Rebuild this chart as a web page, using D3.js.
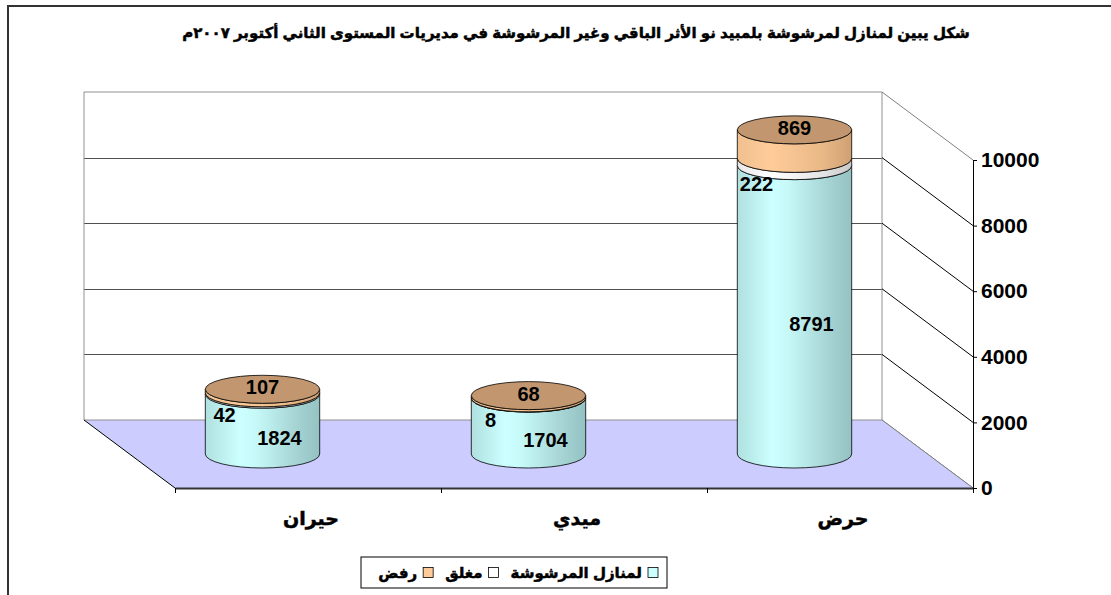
<!DOCTYPE html>
<html>
<head>
<meta charset="utf-8">
<script src="https://cdn.jsdelivr.net/npm/d3@7/dist/d3.min.js"></script>
<style>
body{margin:0;background:#fff;}
svg{display:block;}
text{font-family:Arial,"Liberation Sans","DejaVu Sans",sans-serif;font-weight:bold;fill:#000;}
.ar{stroke:#000;stroke-width:0.5px;}
</style>
</head>
<body>
<div id="canvas"></div>
<script>
// data
var categories = ['حيران', 'ميدي', 'حرض'];
var sprayed = [1824, 1704, 8791];   // لمنازل المرشوشة
var closedH = [42, 8, 222];         // مغلق
var refused = [107, 68, 869];       // رفض
var seriesNames = ['لمنازل المرشوشة', 'مغلق', 'رفض'];
var yTicks = [0, 2000, 4000, 6000, 8000, 10000];
var title = 'شكل يبين لمنازل لمرشوشة بلمبيد نو الأثر الباقي وغير المرشوشة في مديريات المستوى الثاني أكتوبر ٢٠٠٧م';

var W = 1111, H = 595;
var svg = d3.select('#canvas').append('svg').attr('width', W).attr('height', H);

// chart frame (runs off the right and bottom)
svg.append('rect').attr('x', 8).attr('y', 6).attr('width', 1200).attr('height', 700)
    .attr('fill', 'none').attr('stroke', '#333').attr('stroke-width', 2);

svg.append('text').attr('class', 'ar').attr('x', 576).attr('y', 38).attr('text-anchor', 'middle')
    .attr('direction', 'rtl').style('font-size', '15px').text(title);

// 3d frame: front floor edge and depth offset
var front = {l: 175, r: 973, b: 488};
var dep = {x: -91, y: -68};
var yScale = d3.scaleLinear().domain([0, 10000]).range([front.b, 160]);
var xBand = d3.scaleBand().domain(categories).range([front.l, front.r]);
var xTick = d3.scaleLinear().domain([0, categories.length]).range([front.l, front.r]);

var backL = front.l + dep.x, backR = front.r + dep.x;
function yBack(v){ return yScale(v) + dep.y; }

// back wall
var wall = svg.append('g');
wall.append('rect').attr('x', backL).attr('y', yBack(10000)).attr('width', backR - backL)
    .attr('height', yBack(0) - yBack(10000)).attr('fill', '#fff');
wall.selectAll('.grid').data(yTicks.slice(1, -1)).enter().append('line')
    .attr('x1', backL).attr('x2', backR)
    .attr('y1', function(d){ return Math.round(yBack(d)) + 0.5; })
    .attr('y2', function(d){ return Math.round(yBack(d)) + 0.5; })
    .attr('stroke', '#505050');
wall.append('path')
    .attr('d', 'M' + backL + ',' + yBack(0) + 'V' + yBack(10000) + 'H' + backR + 'V' + yBack(0))
    .attr('fill', 'none').attr('stroke', '#909090');

// side lines from back wall edge to front axis
svg.selectAll('.side').data(yTicks).enter().append('line')
    .attr('x1', backR).attr('y1', function(d){ return yBack(d); })
    .attr('x2', front.r).attr('y2', function(d){ return yScale(d); })
    .attr('stroke', function(d){ return (d === 10000 || d === 0) ? '#808080' : '#000'; })
    .attr('stroke-width', 1);

// floor
svg.append('path')
    .attr('d', 'M' + backL + ',' + yBack(0) + 'L' + backR + ',' + yBack(0) + 'L' + front.r + ',' + front.b +
        'L' + front.l + ',' + front.b + 'Z')
    .attr('fill', '#ccccff').attr('stroke', 'none');
svg.append('line').attr('x1', backL).attr('y1', yBack(0)).attr('x2', backR).attr('y2', yBack(0))
    .attr('stroke', '#909090');
svg.append('line').attr('x1', backL).attr('y1', yBack(0)).attr('x2', front.l).attr('y2', front.b)
    .attr('stroke', '#000');
svg.append('line').attr('x1', backR).attr('y1', yBack(0)).attr('x2', front.r).attr('y2', front.b)
    .attr('stroke', '#808080');

// axes
var axisY = d3.axisRight(yScale).tickValues(yTicks).tickFormat(d3.format('d'))
    .tickSize(4).tickSizeOuter(0).tickPadding(4);
var gy = svg.append('g').attr('transform', 'translate(' + front.r + ',0)').call(axisY);
gy.select('.domain').attr('stroke', '#000');
gy.selectAll('text').style('font-size', '21px').style('font-family', 'Arial,"Liberation Sans",sans-serif').attr('fill', '#000');

var axisX = d3.axisBottom(xTick).tickValues(d3.range(categories.length + 1)).tickFormat('').tickSize(5).tickSizeOuter(0);
var gx = svg.append('g').attr('transform', 'translate(0,' + front.b + ')').call(axisX);
gx.select('.domain').attr('stroke', '#333').attr('stroke-width', 2);

svg.selectAll('.cat').data(categories).enter().append('text').attr('class', 'ar')
    .attr('x', function(d){ return xBand(d) + xBand.bandwidth() / 2 + 3; })
    .attr('y', 525).attr('text-anchor', 'middle').attr('direction', 'rtl')
    .style('font-size', '19px').text(function(d){ return d; });

// gradients for the cylinders
var defs = svg.append('defs');
function grad(id, stops){
    var g = defs.append('linearGradient').attr('id', id).attr('x1', 0).attr('x2', 1).attr('y1', 0).attr('y2', 0);
    stops.forEach(function(s){ g.append('stop').attr('offset', s[0]).attr('stop-color', s[1]); });
}
grad('gCyan', [[0, '#b0e0e0'], [0.3, '#ccffff'], [0.45, '#c6f8f8'], [0.75, '#aad8d8'], [1, '#94c2c2']]);
grad('gWhite', [[0, '#e8e8e8'], [0.3, '#ffffff'], [0.75, '#e4e4e4'], [1, '#c8c8c8']]);
grad('gOrange', [[0, '#f0c090'], [0.3, '#ffcc99'], [0.75, '#e8b887'], [1, '#cfa073']]);
var fills = ['url(#gCyan)', 'url(#gWhite)', 'url(#gOrange)'];
var topFill = '#c29770';

// stacked values
var rows = categories.map(function(c, i){ return {cat: c, s0: sprayed[i], s1: closedH[i], s2: refused[i]}; });
var stacked = d3.stack().keys(['s0', 's1', 's2'])(rows);

var rx = xBand.bandwidth() * 0.215, ry = 14;
function cx(c){ return xBand(c) + xBand.bandwidth() / 2 + dep.x / 2; }
function cy(v){ return yScale(v) + dep.y / 2; }

function sidePath(x, y0, y1){
    return 'M' + (x - rx) + ',' + y0 +
        'A' + rx + ',' + ry + ' 0 0 0 ' + (x + rx) + ',' + y0 +
        'L' + (x + rx) + ',' + y1 +
        'A' + rx + ',' + ry + ' 0 0 1 ' + (x - rx) + ',' + y1 + 'Z';
}

var bars = svg.append('g');
stacked.forEach(function(layer, si){
    bars.selectAll('.seg' + si).data(layer).enter().append('path')
        .attr('d', function(d){ return sidePath(cx(d.data.cat), cy(d[0]), cy(d[1])); })
        .attr('fill', fills[si]).attr('stroke', '#000').attr('stroke-width', 0.8);
});
var topLayer = stacked[stacked.length - 1];
bars.selectAll('.cap').data(topLayer).enter().append('ellipse')
    .attr('cx', function(d){ return cx(d.data.cat); })
    .attr('cy', function(d){ return cy(d[1]); })
    .attr('rx', rx).attr('ry', ry)
    .attr('fill', topFill).attr('stroke', '#000').attr('stroke-width', 0.8);

// data labels
var lblOff = [{x: 17, y: 14}, {x: -38, y: 22}, {x: 0, y: -2}];
stacked.forEach(function(layer, si){
    svg.selectAll('.lbl' + si).data(layer).enter().append('text')
        .attr('x', function(d){ return cx(d.data.cat) + lblOff[si].x; })
        .attr('y', function(d){
            var v = si === 2 ? d[1] : (d[0] + d[1]) / 2;
            return cy(v) + lblOff[si].y;
        })
        .attr('text-anchor', 'middle').attr('dominant-baseline', 'central')
        .style('font-size', '20px')
        .text(function(d){ return d[1] - d[0]; });
});

// legend (right to left: swatch then text)
var legX0 = 361, legX1 = 667, legY = 557, legH = 31;
var leg = svg.append('g');
leg.append('rect').attr('x', legX0).attr('y', legY).attr('width', legX1 - legX0).attr('height', legH)
    .attr('fill', '#fff').attr('stroke', '#000');
var legFill = ['#ccffff', '#ffffff', '#ffcc99'];
var xpos = legX1 - 9;
seriesNames.forEach(function(n, i){
    leg.append('rect').attr('x', xpos - 10).attr('y', legY + legH / 2 - 5).attr('width', 10).attr('height', 10)
        .attr('fill', legFill[i]).attr('stroke', '#000').attr('stroke-width', 0.8);
    var t = leg.append('text').attr('class', 'ar').attr('x', xpos - 16).attr('y', legY + legH / 2)
        .attr('text-anchor', 'start').attr('direction', 'rtl').attr('dominant-baseline', 'central')
        .style('font-size', '15px').text(n);
    xpos = xpos - 16 - t.node().getComputedTextLength() - 12;
});
</script>
</body>
</html>
